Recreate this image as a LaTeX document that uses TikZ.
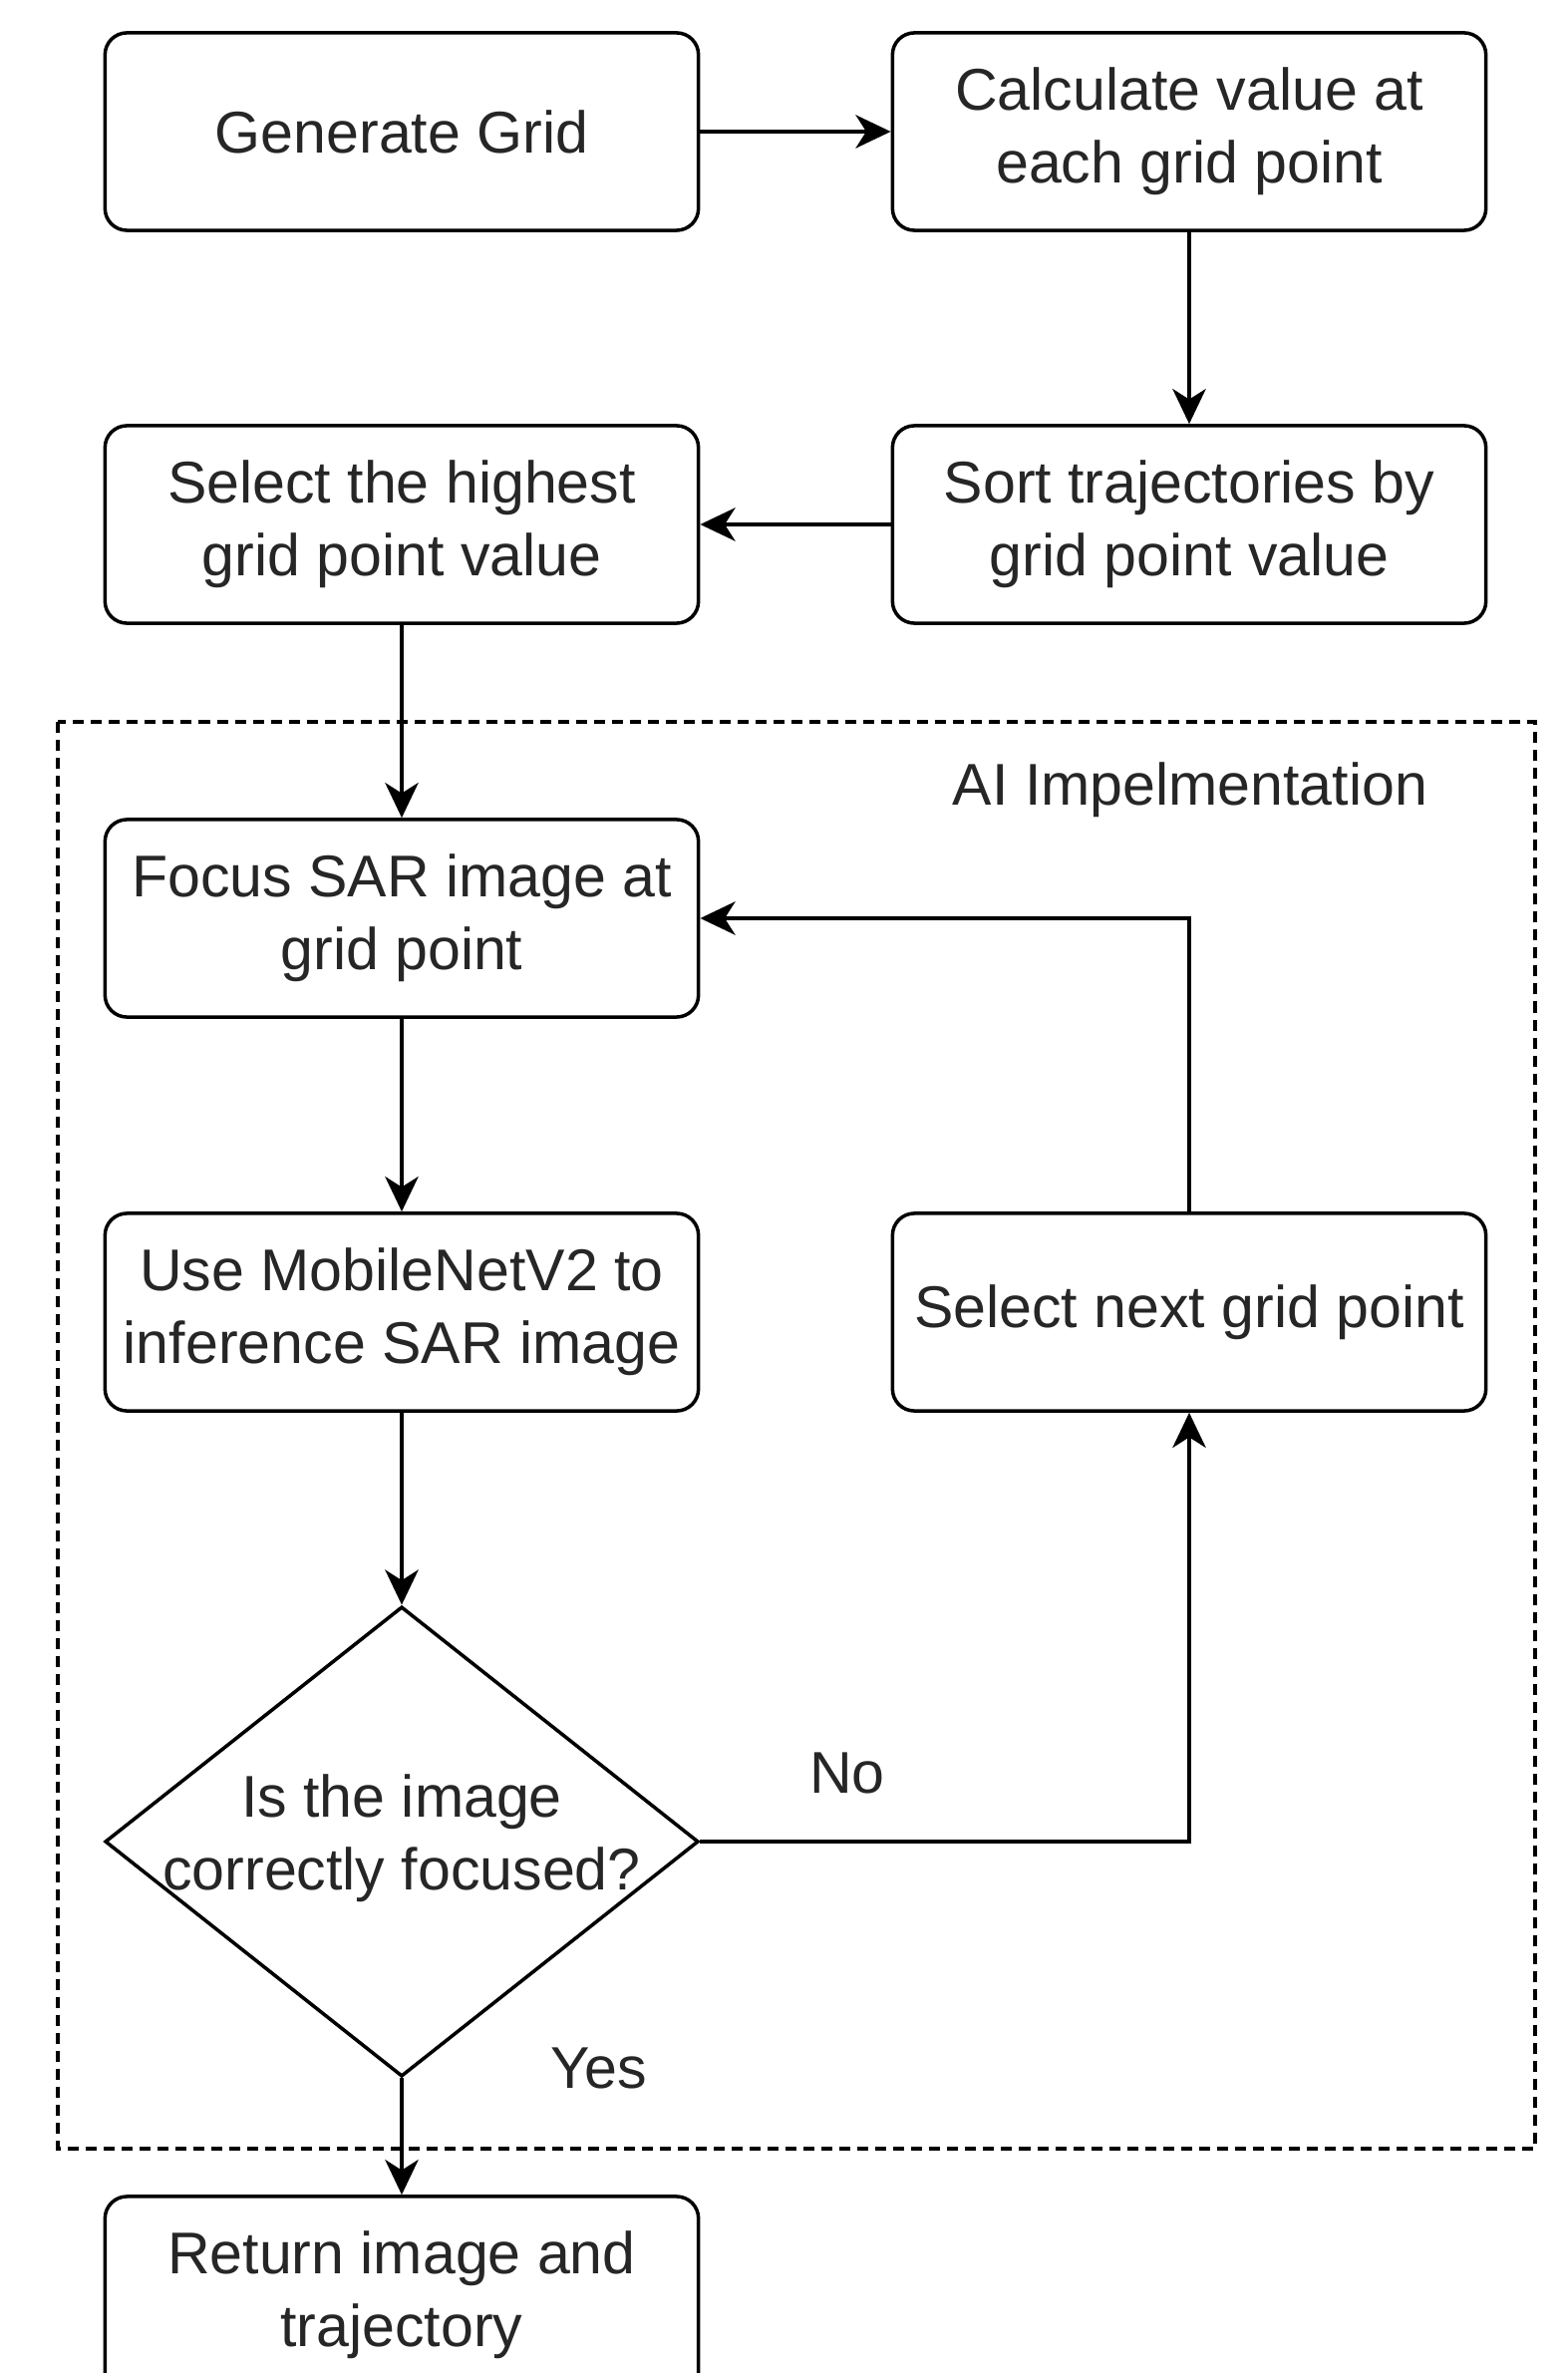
\documentclass[tikz,border=0pt]{standalone}
\usepackage{fontspec}
\setmainfont{Liberation Sans}
\usetikzlibrary{arrows.meta,shapes.geometric}
\tikzset{
  txt/.style={font=\fontsize{16.8}{20.7}\selectfont,text=black!85},
  stepbox/.style={txt,draw,rounded corners=0.22cm,line width=1pt,
    minimum width=5.95cm,minimum height=1.98cm,inner sep=2pt,align=center},
  decide/.style={draw,diamond,line width=1pt,minimum width=5.95cm,
    minimum height=4.71cm,inner sep=0pt,aspect=1.26},
  flow/.style={line width=1pt,-{Stealth[length=10pt,width=9.5pt,inset=3pt]}},
  groupbox/.style={line width=1pt,dash pattern=on 0.11cm off 0.07cm}
}
\begin{document}
\begin{tikzpicture}[x=0.01cm,y=-0.01cm]
  \useasboundingbox (0,0) rectangle (1572,2380);
  \draw[groupbox] (58,724) rectangle (1540,2155);
  \node[txt] (ai) at (1194,792) {AI Impelmentation};
  \node[stepbox] (grid) at (403,132) {Generate Grid};
  \node[stepbox] (calc) at (1193,132) {Calculate value at\\each grid point};
  \node[stepbox] (sort) at (1193,526) {Sort trajectories by\\grid point value};
  \node[stepbox] (high) at (403,526) {Select the highest\\grid point value};
  \node[stepbox] (focus) at (403,921) {Focus SAR image at\\grid point};
  \node[stepbox] (mobile) at (403,1316) {Use MobileNetV2 to\\inference SAR image};
  \node[stepbox] (next) at (1193,1316) {Select next grid point};
  \node[decide] (check) at (403,1847) {};
  \node[txt,align=center] (checktxt) at (403,1844) {Is the image\\correctly focused?};
  \node[stepbox] (ret) at (403,2302) {Return image and\\trajectory};
  \draw[flow] (grid) -- (calc);
  \draw[flow] (calc) -- (sort);
  \draw[flow] (sort) -- (high);
  \draw[flow] (high) -- (focus);
  \draw[flow] (focus) -- (mobile);
  \draw[flow] (mobile) -- (check);
  \draw[flow] (check) -- (ret);
  \draw[flow] (check.east) -| (next);
  \draw[flow] (next) |- (focus);
  \node[txt] (no) at (850,1778) {No};
  \node[txt] (yes) at (601,2074) {Yes};
\end{tikzpicture}
\end{document}
